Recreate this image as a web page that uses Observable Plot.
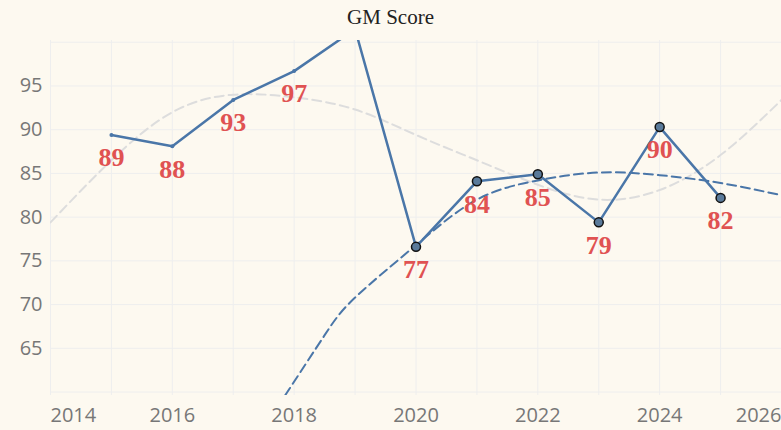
<!DOCTYPE html>
<html><head><meta charset="utf-8">
<script src="https://cdn.jsdelivr.net/npm/d3@7"></script>
<script src="https://cdn.jsdelivr.net/npm/@observablehq/plot@0.6"></script>
<style>
body{margin:0;background:#fdf9f0;}
#title{height:40px;line-height:34px;text-align:center;font-family:"Liberation Serif",serif;font-size:21px;color:#222;}
</style></head><body>
<div id="title">GM Score</div>
<div id="chart"></div>
<script>
const years = [2015,2016,2017,2018,2019,2020,2021,2022,2023,2024,2025];
const scores = [89.4,88.1,93.4,96.7,101.5,76.6,84.1,84.9,79.4,90.3,82.2];
const labels = ["89","88","93","97","","77","84","85","79","90","82"];
const grayYears = [2014,2015,2016,2017,2018,2019,2020,2021,2022,2023,2024,2025,2026];
const grayTrend = [79.4,86.5,92,94,93.7,92.3,89.4,86.5,83.7,82,83.1,87.1,93.4];
const blueYears = [2017.85,2018.5,2019,2020,2021,2022,2023,2024,2025,2026];
const blueTrend = [59.6,66.5,70.8,76.8,82,84.2,85.1,84.8,83.9,82.5];
const xTicks = [2016,2018,2020,2022,2024];

const pts = years.map((y,i)=>({year:y,score:scores[i],label:labels[i],recent:y>=2020}));
const gray = grayYears.map((y,i)=>({year:y,v:grayTrend[i]}));
const blue = blueYears.map((y,i)=>({year:y,v:blueTrend[i]}));
const axStyle = {tickSize:0,fontSize:20,fill:"#777",tickPadding:12,tickFormat:d=>String(d)};

const chart = Plot.plot({
  width:781,height:390,marginLeft:50,marginRight:0,marginTop:0,marginBottom:35,
  style:{background:"#fdf9f0",fontFamily:"'Open Sans',sans-serif"},
  x:{domain:[2014,2026],label:null,axis:null},
  y:{domain:[59.6,100.2],label:null,axis:null},
  marks:[
    Plot.gridX([2014,2015,2016,2017,2018,2019,2020,2021,2022,2023,2024,2025,2026],{stroke:"#eee",strokeOpacity:1}),
    Plot.gridY([60,65,70,75,80,85,90,95,100],{stroke:"#eee",strokeOpacity:1}),
    Plot.axisX({...axStyle,ticks:xTicks}),
    Plot.axisX({...axStyle,ticks:[2014],textAnchor:"start"}),
    Plot.axisX({...axStyle,ticks:[2026],textAnchor:"end"}),
    Plot.axisY({tickSize:0,fontSize:20,fill:"#777",tickPadding:8,ticks:[65,70,75,80,85,90,95]}),
    Plot.line(gray,{x:"year",y:"v",curve:"natural",stroke:"#ddd",strokeWidth:2,strokeDasharray:"9,5",clip:true}),
    Plot.line(blue,{x:"year",y:"v",curve:"natural",stroke:"#4a76a8",strokeWidth:2,strokeDasharray:"9,5",clip:true}),
    Plot.line(pts,{x:"year",y:"score",stroke:"#4a76a8",strokeWidth:2.5,clip:true}),
    Plot.dot(pts.filter(d=>!d.recent),{x:"year",y:"score",r:2,fill:"#4a76a8",clip:true}),
    Plot.dot(pts.filter(d=>d.recent),{x:"year",y:"score",r:4.5,fill:"#5a7a9a",stroke:"#111",strokeWidth:1.5}),
    Plot.text(pts.filter(d=>d.label),{x:"year",y:"score",text:"label",dy:23,fill:"#e05252",fontSize:26,fontWeight:"bold",fontFamily:"'Liberation Serif',serif"})
  ]
});
document.getElementById("chart").appendChild(chart);
</script></body></html>
